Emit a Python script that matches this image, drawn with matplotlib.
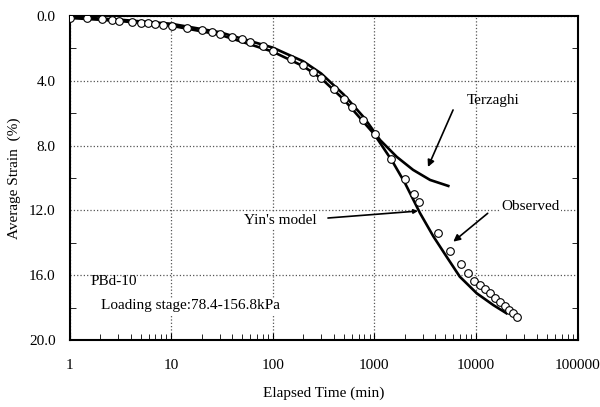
import matplotlib.pyplot as plt
from matplotlib.ticker import FixedLocator, NullFormatter, LogLocator

plt.rcParams['font.family'] = ['Liberation Serif', 'DejaVu Serif']

# observed data (time min, strain %)
obs_t = [1, 1.5, 2.1, 2.6, 3.1, 4.1, 5, 5.9, 7, 8.4, 10.2, 14.4, 20, 25, 30, 40, 50, 60,
         80, 100, 150, 200, 250, 300, 400, 500, 600, 780, 1016, 1450, 1990, 2460, 2780,
         4200, 5560, 7080, 8420, 9560, 10970, 12300, 13800, 15400, 17300, 19400, 21300,
         23300, 25200]
obs_s = [0.14, 0.1, 0.2, 0.25, 0.29, 0.39, 0.41, 0.45, 0.49, 0.56, 0.6, 0.72, 0.86, 1.0,
         1.11, 1.28, 1.44, 1.62, 1.85, 2.14, 2.67, 3.02, 3.44, 3.85, 4.51, 5.1, 5.6, 6.42,
         7.3, 8.85, 10.06, 10.99, 11.46, 13.41, 14.5, 15.31, 15.88, 16.34, 16.6, 16.87,
         17.12, 17.43, 17.64, 17.9, 18.15, 18.35, 18.56]

# Yin's model
yin_t = [1, 3, 10, 30, 100, 200, 300, 500, 1000, 1500, 2000, 2820, 3810, 5150, 6940,
         10200, 14800, 20000]
yin_s = [0.12, 0.3, 0.6, 1.15, 2.2, 3.1, 3.85, 5.15, 7.3, 8.95, 10.3, 12.17, 13.6, 14.86,
         16.09, 17.12, 17.84, 18.35]

# Terzaghi
ter_t = [1, 3, 10, 30, 100, 200, 300, 500, 800, 1138, 1660, 2410, 3540, 5350]
ter_s = [0.05, 0.22, 0.48, 1.0, 1.95, 2.8, 3.55, 4.85, 6.3, 7.65, 8.69, 9.5, 10.12, 10.49]

fig = plt.figure(figsize=(6, 4.07), dpi=100)
ax = fig.add_axes([69.5 / 600, 1 - 340 / 407, 508 / 600, 324 / 407])

ax.plot(ter_t, ter_s, color='black', lw=1.9, zorder=3)
ax.plot(yin_t, yin_s, color='black', lw=1.9, zorder=3)
ax.plot(obs_t, obs_s, 'o', mfc='white', mec='black', mew=0.8, ms=5.5, zorder=4)

ax.set_xscale('log')
ax.set_xlim(1, 100000)
ax.set_ylim(20, 0)
ax.set_xticks([1, 10, 100, 1000, 10000, 100000])
ax.set_xticklabels(['1', '10', '100', '1000', '10000', '100000'])
ax.xaxis.set_minor_locator(LogLocator(base=10, subs=range(2, 10)))
ax.xaxis.set_minor_formatter(NullFormatter())
ax.set_yticks([0, 4, 8, 12, 16, 20])
ax.set_yticklabels(['0.0', '4.0', '8.0', '12.0', '16.0', '20.0'])
ax.yaxis.set_minor_locator(FixedLocator([2, 6, 10, 14, 18]))

ax.tick_params(which='both', direction='in', labelsize=11, right=True)
ax.tick_params(axis='x', which='major', length=5, pad=14)
ax.tick_params(axis='x', which='minor', length=4)
ax.tick_params(axis='y', which='major', length=0, pad=10)
ax.tick_params(axis='y', which='minor', length=4)

ax.grid(True, which='major', ls=':', color='#555555', lw=0.9)
for sp in ax.spines.values():
    sp.set_linewidth(1.5)

ax.set_xlabel('Elapsed Time (min)', fontsize=11, labelpad=10)
ax.set_ylabel('Average Strain  (%)', fontsize=11, labelpad=6)

bb = dict(facecolor='white', edgecolor='none', pad=1)
arr = dict(arrowstyle='-|>', color='black', lw=1.2, mutation_scale=10, shrinkA=0, shrinkB=0)

# labels and arrows
ax.text(14700, 5.2, 'Terzaghi', fontsize=11, ha='center', va='center')
ax.annotate('', xy=(3375, 9.32), xytext=(5960, 5.8), arrowprops=arr)

ax.text(34700, 11.73, 'Observed', fontsize=11, ha='center', va='center', bbox=bb)
ax.annotate('', xy=(5990, 13.93), xytext=(13060, 12.18), arrowprops=arr)

ax.text(120, 12.65, "Yin's model", fontsize=11, ha='center', va='center', bbox=bb)
ax.annotate('', xy=(2690, 12.04), xytext=(350, 12.47),
            arrowprops=dict(arrowstyle='-|>', color='black', lw=1.2, mutation_scale=6,
                            shrinkA=0, shrinkB=0))

ax.text(1.6, 16.4, 'PBd-10', fontsize=11, va='center')
ax.text(2.05, 17.9, 'Loading stage:78.4-156.8kPa', fontsize=11, va='center', bbox=bb)

fig.savefig('out.png', dpi=100)
